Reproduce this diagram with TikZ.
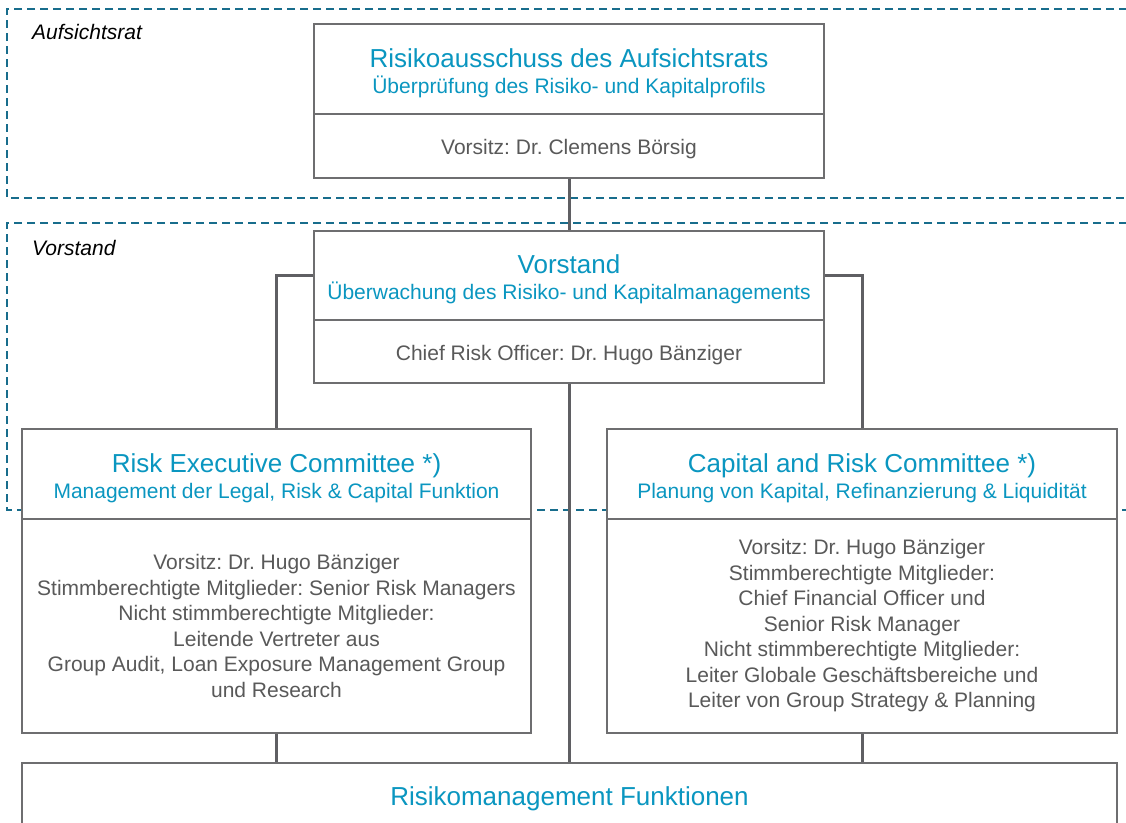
\documentclass[tikz,border=0pt]{standalone}
\usepackage{fontspec}
\setmainfont{Liberation Sans}
\frenchspacing
\definecolor{dbcyan}{HTML}{0A96C0}
\definecolor{dashteal}{HTML}{186D8C}
\definecolor{boxgray}{HTML}{6E6E70}
\definecolor{conngray}{HTML}{5F5F63}
\definecolor{txtgray}{HTML}{595959}
\tikzset{
  box/.style={draw=boxgray, line width=2pt, fill=white, inner sep=0pt},
  conn/.style={draw=conngray, line width=3pt},
  dashreg/.style={draw=dashteal, line width=2pt, dash pattern=on 8pt off 5pt},
  ttl/.style={text=dbcyan, font=\fontsize{26}{31}\selectfont, anchor=base, inner sep=0pt},
  sub/.style={text=dbcyan, font=\fontsize{21}{25.5}\selectfont, anchor=base, inner sep=0pt},
  body/.style={text=txtgray, font=\fontsize{21}{25.5}\selectfont, align=center, inner sep=0pt},
  lbl/.style={text=black, font=\fontsize{21}{25}\selectfont\itshape, anchor=base west, inner sep=0pt},
}
\begin{document}
\begin{tikzpicture}[x=1pt,y=-1pt]
\useasboundingbox (0,0) rectangle (1126,822);
\begin{scope}
\clip (0,0) rectangle (1126,822);
% dashed regions
\draw[dashreg] (1140,9) -- (7,9) -- (7,198) -- (1140,198);
\draw[dashreg] (1140,223) -- (7,223) -- (7,510) -- (1140,510);
\node[lbl] (lblA) at (32,39) {Aufsichtsrat};
\node[lbl] (lblV) at (32,255) {Vorstand};
% boxes
\node[box, minimum width=510pt, minimum height=90pt] (aT) at (569,69) {};
\node[box, minimum width=510pt, minimum height=64pt] (aB) at (569,146) {};
\node[box, minimum width=510pt, minimum height=89pt] (vT) at (569,275.5) {};
\node[box, minimum width=510pt, minimum height=63pt] (vB) at (569,351.5) {};
% connectors
\draw[conn] (aB.south) -- (vT.north);
\draw[conn] (vT.west) -| (276.5,429);
\draw[conn] (vT.east) -| (862,429);
\draw[conn] (vB.south) -- (569,763);
\draw[conn] (276.5,733) -- (276.5,763);
\draw[conn] (862,733) -- (862,763);
% boxes over connectors
\node[box, minimum width=509pt, minimum height=90pt] (rT) at (276.5,474) {};
\node[box, minimum width=509pt, minimum height=214pt] (rB) at (276.5,626) {};
\node[box, minimum width=510pt, minimum height=90pt] (cT) at (862,474) {};
\node[box, minimum width=510pt, minimum height=214pt] (cB) at (862,626) {};
\node[box, minimum width=1095pt, minimum height=97pt] (f) at (569.5,811.5) {};
% texts
\node[ttl] (aTt) at (569,67) {Risikoausschuss des Aufsichtsrats};
\node[sub] (aTs) at (569,93.5) {Überprüfung des Risiko- und Kapitalprofils};
\node[body, anchor=base] (aBt) at (569,154.5) {Vorsitz: Dr. Clemens Börsig};
\node[ttl] (vTt) at (569,273) {Vorstand};
\node[sub] (vTs) at (569,299.5) {Überwachung des Risiko- und Kapitalmanagements};
\node[body, anchor=base] (vBt) at (569,360.5) {Chief Risk Officer: Dr. Hugo Bänziger};
\node[ttl] (rTt) at (276.5,472) {Risk Executive Committee *)};
\node[sub] (rTs) at (276.5,498.5) {Management der Legal, Risk \& Capital Funktion};
\node[body] (rBt) at (276.5,626) {Vorsitz: Dr. Hugo Bänziger\\Stimmberechtigte Mitglieder: Senior Risk Managers\\Nicht stimmberechtigte Mitglieder:\\Leitende Vertreter aus\\Group Audit, Loan Exposure Management Group\\und Research};
\node[ttl] (cTt) at (862,472) {Capital and Risk Committee *)};
\node[sub] (cTs) at (862,498.5) {Planung von Kapital, Refinanzierung \& Liquidität};
\node[body] (cBt) at (862,626) {Vorsitz: Dr. Hugo Bänziger\\Stimmberechtigte Mitglieder:\\Chief Financial Officer und\\Senior Risk Manager\\Nicht stimmberechtigte Mitglieder:\\Leiter Globale Geschäftsbereiche und\\Leiter von Group Strategy \& Planning};
\node[ttl] (fT) at (569.5,805) {Risikomanagement Funktionen};
\end{scope}
\end{tikzpicture}
\end{document}
